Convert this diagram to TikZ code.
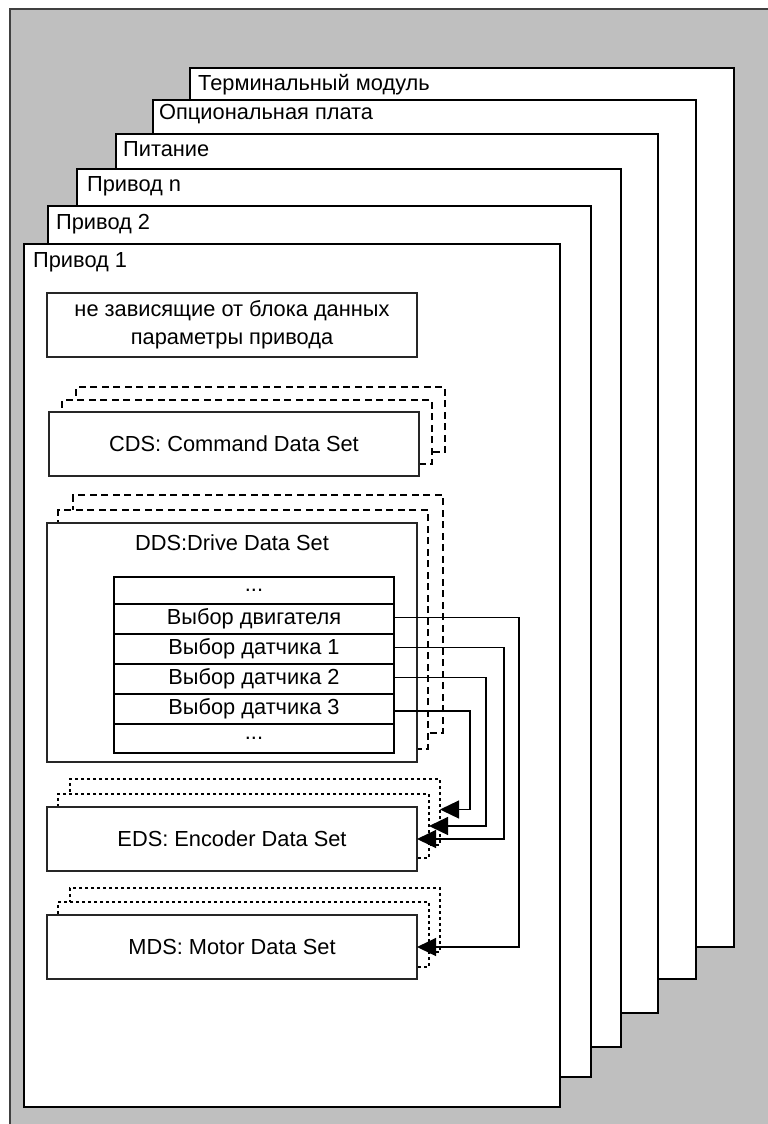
\documentclass[tikz,border=0pt]{standalone}
\usepackage{fontspec}
\setmainfont{Liberation Sans}
\usetikzlibrary{arrows.meta}
\begin{document}
\begin{tikzpicture}[x=1pt,y=-1pt,
  font=\fontsize{21.8}{28}\selectfont,
  panel/.style={draw=black, line width=1.4pt, fill=white, inner sep=0pt, outer sep=0pt, anchor=north west},
  plabel/.style={anchor=west, inner sep=0pt},
  blk/.style={draw=black!85, line width=1.4pt, fill=white, inner sep=0pt, outer sep=0pt, anchor=north west, align=center},
  dsh/.style={blk, draw=black, dash pattern=on 7pt off 4.5pt, line width=1.8pt},
  dtt/.style={blk, draw=black, dash pattern=on 3pt off 3pt, line width=1.8pt},
  rowbox/.style={draw=black, line width=1.2pt, fill=white, inner sep=0pt, outer sep=0pt, anchor=north west, minimum width=280pt},
  conn/.style={draw=black, line width=1.3pt, -{Triangle[length=19pt,width=18pt]}},
]
\useasboundingbox (0,0) rectangle (768,1124);
\clip (0,0) rectangle (768,1124);
\fill[white] (0,0) rectangle (768,1124);
\draw[fill=black!25, draw=black!75, line width=2pt] (9.5,9.5) rectangle (790,1150);

% stacked panels
\node[panel, minimum width=544pt, minimum height=879pt] (p6) at (190,68) {};
\node[plabel] (t6) at (198,85) {Терминальный модуль};
\node[panel, minimum width=543pt, minimum height=879pt] (p5) at (153,100) {};
\node[plabel] (t5) at (159,114) {Опциональная плата};
\node[panel, minimum width=542pt, minimum height=879pt] (p4) at (116,134) {};
\node[plabel] (t4) at (123,149) {Питание};
\node[panel, minimum width=544pt, minimum height=878pt] (p3) at (77,169) {};
\node[plabel] (t3) at (87,186) {Привод n};
\node[panel, minimum width=543pt, minimum height=871pt] (p2) at (48,206) {};
\node[plabel] (t2) at (56,224) {Привод 2};
\node[panel, minimum width=536pt, minimum height=863pt] (p1) at (24,244) {};
\node[plabel] (t1) at (33,262) {Привод 1};

% independent parameters
\node[blk, minimum width=370pt, minimum height=64pt] (ind) at (47,293) {не зависящие от блока данных\\параметры привода};

% CDS
\node[dsh, minimum width=369pt, minimum height=65pt] (cds3) at (76,387) {};
\node[dsh, minimum width=370pt, minimum height=64pt] (cds2) at (62,400) {};
\node[blk, minimum width=370pt, minimum height=64pt] (cds) at (49,412) {CDS: Command Data Set};

% DDS
\node[dsh, minimum width=370pt, minimum height=238pt] (dds3) at (73,495) {};
\node[dsh, minimum width=370pt, minimum height=239pt] (dds2) at (58,510) {};
\node[blk, minimum width=370pt, minimum height=239pt] (dds) at (47,523) {};
\node[inner sep=0pt] (ddsl) at (232,543) {DDS:Drive Data Set};
\node[rowbox, minimum height=27pt] (r1) at (114,577) {...};
\node[rowbox, minimum height=30pt] (r2) at (114,604) {Выбор двигателя};
\node[rowbox, minimum height=30pt] (r3) at (114,634) {Выбор датчика 1};
\node[rowbox, minimum height=30pt] (r4) at (114,664) {Выбор датчика 2};
\node[rowbox, minimum height=30pt] (r5) at (114,694) {Выбор датчика 3};
\node[rowbox, minimum height=29pt] (r6) at (114,724) {...};

% EDS
\node[dtt, minimum width=370pt, minimum height=66pt] (eds3) at (70,779) {};
\node[dtt, minimum width=371pt, minimum height=64pt] (eds2) at (58,794) {};
\node[blk, minimum width=370pt, minimum height=64pt] (eds) at (47,807) {EDS: Encoder Data Set};

% MDS
\node[dtt, minimum width=370pt, minimum height=64pt] (mds3) at (70,888) {};
\node[dtt, minimum width=371pt, minimum height=65pt] (mds2) at (58,902) {};
\node[blk, minimum width=370pt, minimum height=64pt] (mds) at (47,915) {MDS: Motor Data Set};

% connectors
\coordinate (c1) at (519,0);
\coordinate (c2) at (504,0);
\coordinate (c3) at (486,0);
\coordinate (c4) at (470,0);
\draw[conn] ([yshift=1.5pt]r2.east) -- ([yshift=1.5pt]r2.east -| c1) |- (mds.east);
\draw[conn] ([yshift=1.5pt]r3.east) -- ([yshift=1.5pt]r3.east -| c2) |- (eds.east);
\draw[conn] ([yshift=1.5pt]r4.east) -- ([yshift=1.5pt]r4.east -| c3) |- (eds2.east);
\draw[conn] ([yshift=-2pt]r5.east) -- ([yshift=-2pt]r5.east -| c4) |- ([yshift=2.5pt]eds3.east);
\end{tikzpicture}
\end{document}
